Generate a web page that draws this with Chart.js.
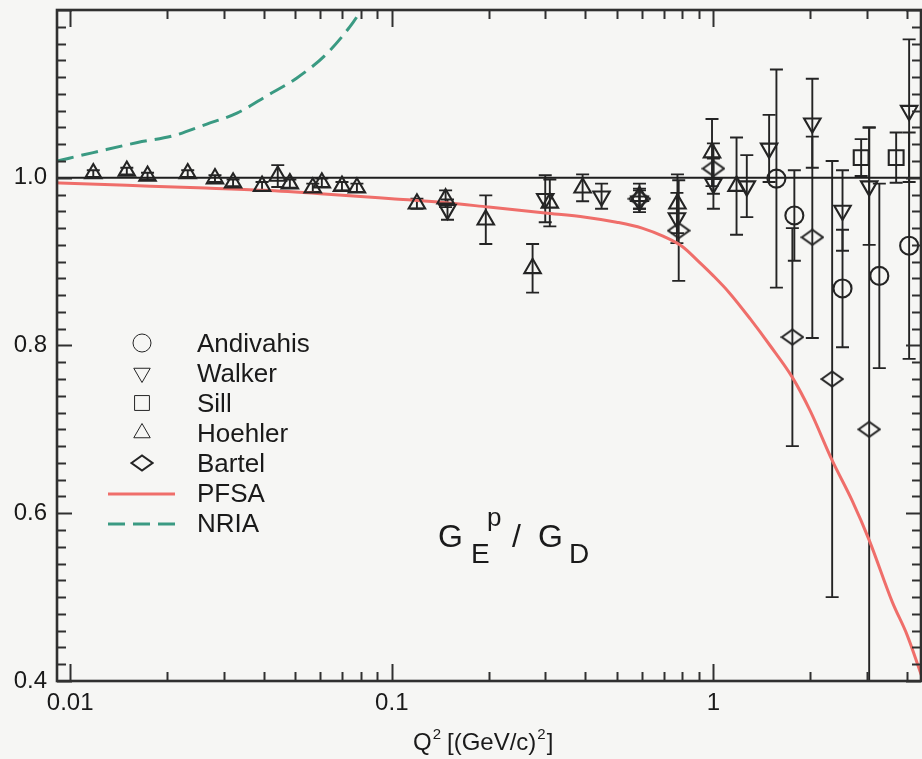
<!DOCTYPE html>
<html>
<head>
<meta charset="utf-8">
<title>GEp / GD</title>
<script src="https://cdn.jsdelivr.net/npm/chart.js@4.4.1/dist/chart.umd.min.js"></script>
<style>
  html, body { margin: 0; padding: 0; background: #f6f6f4; }
  #wrap { width: 922px; height: 759px; }
</style>
</head>
<body>
<div id="wrap"><canvas id="chart-gep" width="922" height="759"></canvas></div>
<script>
'use strict';


// Data: Q^2 in (GeV/c)^2, G_E^p/G_D and symmetric errors
//
var andivahisQ2  = [1.57, 1.785, 2.52, 3.28, 4.06];
var andivahisG   = [0.999, 0.955, 0.868, 0.883, 0.919];
var andivahisErr = [0.13, 0.054, 0.07, 0.11, 0.135];

var walkerQ2  = [0.149, 0.30, 0.449, 0.589, 0.77, 1.0, 1.27, 1.49, 2.03, 2.52, 3.05, 4.06];
var walkerG   = [0.962, 0.975, 0.978, 0.972, 0.952, 0.993, 0.99, 1.035, 1.065, 0.961, 0.99, 1.08];
var walkerErr = [0.012, 0.028, 0.015, 0.013, 0.03, 0.03, 0.037, 0.04, 0.053, 0.048, 0.07, 0.085];

var sillQ2  = [2.88, 3.70];
var sillG   = [1.024, 1.024];
var sillErr = [0.022, 0.03];

var hoehlerQ2  = [0.0118, 0.0150, 0.0174, 0.0232, 0.0282, 0.0321, 0.0395, 0.0442, 0.0482, 0.0568, 0.0606,
                  0.0700, 0.0779, 0.1197, 0.147, 0.196, 0.274, 0.31, 0.392, 0.589, 0.773, 0.99, 1.18];
var hoehlerG   = [1.005, 1.008, 1.002, 1.005, 0.999, 0.994, 0.990, 1.002, 0.993, 0.988, 0.994,
                  0.990, 0.988, 0.969, 0.975, 0.950, 0.892, 0.970, 0.988, 0.978, 0.969, 1.03, 0.99];
var hoehlerErr = [0.004, 0.004, 0.004, 0.004, 0.004, 0.004, 0.005, 0.013, 0.005, 0.005, 0.005,
                  0.005, 0.005, 0.006, 0.01, 0.029, 0.029, 0.028, 0.016, 0.015, 0.035, 0.04, 0.058];

var bartelQ2  = [0.589, 0.78, 1.0, 1.76, 2.03, 2.34, 3.05];
var bartelG   = [0.975, 0.937, 1.011, 0.81, 0.929, 0.76, 0.70];
var bartelErr = [0.012, 0.06, 0.03, 0.13, 0.12, 0.26, 0.36];

// model curves
var pfsaQ2 = [0.009, 0.015, 0.025, 0.04, 0.06, 0.1, 0.15, 0.2, 0.3, 0.4, 0.5, 0.6, 0.7, 0.8, 0.9,
              1.0, 1.12, 1.3, 1.5, 1.76, 2.0, 2.34, 2.7, 3.05, 3.6, 4.0, 4.45];
var pfsaG  = [0.994, 0.991, 0.988, 0.985, 0.981, 0.975, 0.970, 0.965, 0.958, 0.953, 0.947, 0.940, 0.930, 0.918, 0.900,
              0.883, 0.863, 0.832, 0.800, 0.762, 0.722, 0.663, 0.615, 0.568, 0.494, 0.455, 0.405];

var nriaQ2 = [0.0091, 0.0118, 0.0162, 0.0209, 0.0266, 0.033, 0.041, 0.0507, 0.0628, 0.0757, 0.085];
var nriaG  = [1.020, 1.030, 1.042, 1.050, 1.064, 1.077, 1.098, 1.119, 1.148, 1.185, 1.215];

var unityQ2 = [0.009, 4.5];
var unityG  = [1.0, 1.0];

// axes
var xMin = 0.0091, xMax = 4.42;
var yMin = 0.4, yMax = 1.2;
var xTickValues = [0.01, 0.02, 0.03, 0.04, 0.05, 0.06, 0.07, 0.08, 0.09,
                   0.1, 0.2, 0.3, 0.4, 0.5, 0.6, 0.7, 0.8, 0.9,
                   1, 2, 3, 4];
var xTickLabels = { '0.01': '0.01', '0.1': '0.1', '1': '1' };
var yTickStep = 0.02;
var yTickLabels = { '0.4': '0.4', '0.6': '0.6', '0.8': '0.8', '1.0': '1.0' };


var INK = '#242424';
var FONT = '"Liberation Sans", Arial, Helvetica, sans-serif';
var NRIA_DASH = [17, 8];


function points(xs, ys) {
  return xs.map(function(x, i) { return { x: x, y: ys[i] }; });
}

// flattened diamond used for Bartel
var diamond = document.createElement('canvas');
diamond.width = 24;
diamond.height = 18;
(function() {
  var c = diamond.getContext('2d');
  c.strokeStyle = INK;
  c.lineWidth = 2;
  c.beginPath();
  c.moveTo(1.5, 9);
  c.lineTo(12, 1.5);
  c.lineTo(22.5, 9);
  c.lineTo(12, 16.5);
  c.closePath();
  c.stroke();
})();


function markerSet(label, xs, ys, errs, style, radius, rotation) {
  return {
    label: label,
    data: points(xs, ys),
    errors: errs,
    showLine: false,
    pointStyle: style,
    pointRadius: radius,
    pointRotation: rotation || 0,
    pointBorderColor: INK,
    pointBackgroundColor: 'rgba(0,0,0,0)',
    pointBorderWidth: 2.1,
    order: 1
  };
}

function noPadding(s) {
  s.paddingTop = 0;
  s.paddingBottom = 0;
  s.paddingLeft = 0;
  s.paddingRight = 0;
}


// Error bars with caps, behind the symbols
//
var errorBars = {
  id: 'errorBars',
  beforeDatasetsDraw: function(chart) {
    var ctx = chart.ctx, area = chart.chartArea, ys = chart.scales.y;
    ctx.save();
    ctx.beginPath();
    ctx.rect(area.left, area.top, area.right - area.left, area.bottom - area.top);
    ctx.clip();
    ctx.strokeStyle = INK;
    ctx.lineWidth = 1.9;
    chart.data.datasets.forEach(function(ds, i) {
      if (!ds.errors) return;
      var meta = chart.getDatasetMeta(i);
      meta.data.forEach(function(el, j) {
        var v = ds.data[j].y, e = ds.errors[j];
        var top = ys.getPixelForValue(v + e), bot = ys.getPixelForValue(v - e);
        ctx.beginPath();
        ctx.moveTo(el.x, top); ctx.lineTo(el.x, bot);
        ctx.moveTo(el.x - 6.5, top); ctx.lineTo(el.x + 6.5, top);
        ctx.moveTo(el.x - 6.5, bot); ctx.lineTo(el.x + 6.5, bot);
        ctx.stroke();
      });
    });
    ctx.restore();
  }
};


// Frame with inward ticks on all four sides
//
var frame = {
  id: 'frame',
  afterDatasetsDraw: function(chart) {
    var ctx = chart.ctx, a = chart.chartArea;
    var xs = chart.scales.x, ys = chart.scales.y;
    ctx.save();
    ctx.strokeStyle = '#303030';
    ctx.lineWidth = 2;
    ctx.beginPath();
    xs.ticks.forEach(function(t) {
      var px = Math.round(xs.getPixelForValue(t.value)) + 0.5;
      var len = xTickLabels[String(t.value)] ? 17 : 9;
      ctx.moveTo(px, a.bottom); ctx.lineTo(px, a.bottom - len);
      ctx.moveTo(px, a.top); ctx.lineTo(px, a.top + len);
    });
    ys.ticks.forEach(function(t) {
      var py = Math.round(ys.getPixelForValue(t.value)) + 0.5;
      var major = Math.abs(t.value * 5 - Math.round(t.value * 5)) < 1e-6;
      var len = major ? 15 : 9;
      ctx.moveTo(a.left, py); ctx.lineTo(a.left + len, py);
      ctx.moveTo(a.right, py); ctx.lineTo(a.right - len, py);
    });
    ctx.stroke();
    ctx.lineWidth = 2.6;
    ctx.strokeRect(a.left, a.top, a.right - a.left, a.bottom - a.top);
    ctx.restore();
  }
};


// Legend, panel label and axis title
//
var legendRows = [
  { text: 'Andivahis', style: 'circle', radius: 9 },
  { text: 'Walker', style: 'triangle', radius: 9.5, rotation: 180 },
  { text: 'Sill', style: 'rect', radius: 10.5 },
  { text: 'Hoehler', style: 'triangle', radius: 9.5 },
  { text: 'Bartel', style: diamond },
  { text: 'PFSA', line: '#ef6e6a' },
  { text: 'NRIA', line: '#3a9a82', dash: NRIA_DASH }
];

var annotations = {
  id: 'annotations',
  afterDraw: function(chart) {
    var ctx = chart.ctx;
    ctx.save();
    ctx.fillStyle = '#1a1a1a';
    ctx.textBaseline = 'alphabetic';

    legendRows.forEach(function(row, i) {
      var y = 343 + i * 30;
      if (row.line) {
        ctx.strokeStyle = row.line;
        ctx.lineWidth = 3;
        ctx.setLineDash(row.dash || []);
        ctx.beginPath();
        ctx.moveTo(108, y + 1); ctx.lineTo(175, y + 1);
        ctx.stroke();
        ctx.setLineDash([]);
      } else {
        ctx.strokeStyle = INK;
        ctx.fillStyle = 'rgba(0,0,0,0)';
        Chart.helpers.drawPoint(ctx, {
          pointStyle: row.style, radius: row.radius || 8,
          rotation: row.rotation || 0, borderWidth: 2.1
        }, 142, y);
        ctx.fillStyle = '#1a1a1a';
      }
      ctx.font = '26px ' + FONT;
      ctx.fillText(row.text, 197, y + 9);
    });

    // G_E^p / G_D
    ctx.font = '32px ' + FONT;
    ctx.fillText('G', 438, 547);
    ctx.font = '28px ' + FONT;
    ctx.fillText('E', 471, 563);
    ctx.font = '26px ' + FONT;
    ctx.fillText('p', 487, 526);
    ctx.font = '32px ' + FONT;
    ctx.fillText('/', 512, 547);
    ctx.fillText('G', 538, 547);
    ctx.font = '28px ' + FONT;
    ctx.fillText('D', 569, 563);

    // Q^2 [(GeV/c)^2]
    ctx.font = '24px ' + FONT;
    var x = 413, base = 750;
    ctx.fillText('Q', x, base); x += ctx.measureText('Q').width;
    ctx.font = '15px ' + FONT;
    ctx.fillText('2', x + 1, base - 11); x += ctx.measureText('2').width + 7;
    ctx.font = '24px ' + FONT;
    ctx.fillText('[(GeV/c)', x, base); x += ctx.measureText('[(GeV/c)').width;
    ctx.font = '15px ' + FONT;
    ctx.fillText('2', x + 1, base - 11); x += ctx.measureText('2').width + 2;
    ctx.font = '24px ' + FONT;
    ctx.fillText(']', x, base);

    ctx.restore();
  }
};


new Chart(document.getElementById('chart-gep'), {
  type: 'scatter',
  data: {
    datasets: [
      markerSet('Andivahis', andivahisQ2, andivahisG, andivahisErr, 'circle', 9),
      markerSet('Walker', walkerQ2, walkerG, walkerErr, 'triangle', 9.5, 180),
      markerSet('Sill', sillQ2, sillG, sillErr, 'rect', 10.5),
      markerSet('Hoehler', hoehlerQ2, hoehlerG, hoehlerErr, 'triangle', 9.5),
      markerSet('Bartel', bartelQ2, bartelG, bartelErr, diamond, 9),
      {
        label: 'PFSA',
        data: points(pfsaQ2, pfsaG),
        showLine: true,
        borderColor: '#ef6e6a',
        borderWidth: 3,
        pointRadius: 0,
        cubicInterpolationMode: 'monotone',
        order: 2
      },
      {
        label: 'NRIA',
        data: points(nriaQ2, nriaG),
        showLine: true,
        borderColor: '#3a9a82',
        borderWidth: 3,
        borderDash: NRIA_DASH,
        pointRadius: 0,
        cubicInterpolationMode: 'monotone',
        order: 2
      },
      {
        label: 'unity',
        data: points(unityQ2, unityG),
        showLine: true,
        borderColor: '#1e1e1e',
        borderWidth: 2.2,
        pointRadius: 0,
        order: 3
      }
    ]
  },
  options: {
    responsive: false,
    devicePixelRatio: 1,
    animation: false,
    layout: {
      autoPadding: false,
      padding: { top: 10, right: 1, left: 0, bottom: 0 }
    },
    plugins: {
      legend: { display: false },
      tooltip: { enabled: false }
    },
    scales: {
      x: {
        type: 'logarithmic',
        min: xMin,
        max: xMax,
        afterFit: function(s) { s.height = 78; noPadding(s); },
        afterBuildTicks: function(s) {
          s.ticks = xTickValues.map(function(v) { return { value: v }; });
        },
        grid: { display: false, drawTicks: false },
        border: { display: false },
        ticks: {
          autoSkip: false,
          maxRotation: 0,
          minRotation: 0,
          padding: 8,
          color: '#1a1a1a',
          font: { family: FONT, size: 24 },
          callback: function(v) { return xTickLabels[String(v)] || ''; }
        }
      },
      y: {
        min: yMin,
        max: yMax,
        afterFit: function(s) { s.width = 57; noPadding(s); },
        afterBuildTicks: function(s) {
          var t = [];
          for (var v = yMin; v <= yMax + 1e-9; v += yTickStep) {
            t.push({ value: Math.round(v * 100) / 100 });
          }
          s.ticks = t;
        },
        grid: { display: false, drawTicks: false },
        border: { display: false },
        ticks: {
          autoSkip: false,
          padding: 10,
          color: '#1a1a1a',
          font: { family: FONT, size: 24 },
          callback: function(v) { return yTickLabels[v.toFixed(1)] && Math.abs(v * 5 - Math.round(v * 5)) < 1e-6 ? v.toFixed(1) : ''; }
        }
      }
    }
  },
  plugins: [errorBars, frame, annotations]
});
</script>
</body>
</html>
